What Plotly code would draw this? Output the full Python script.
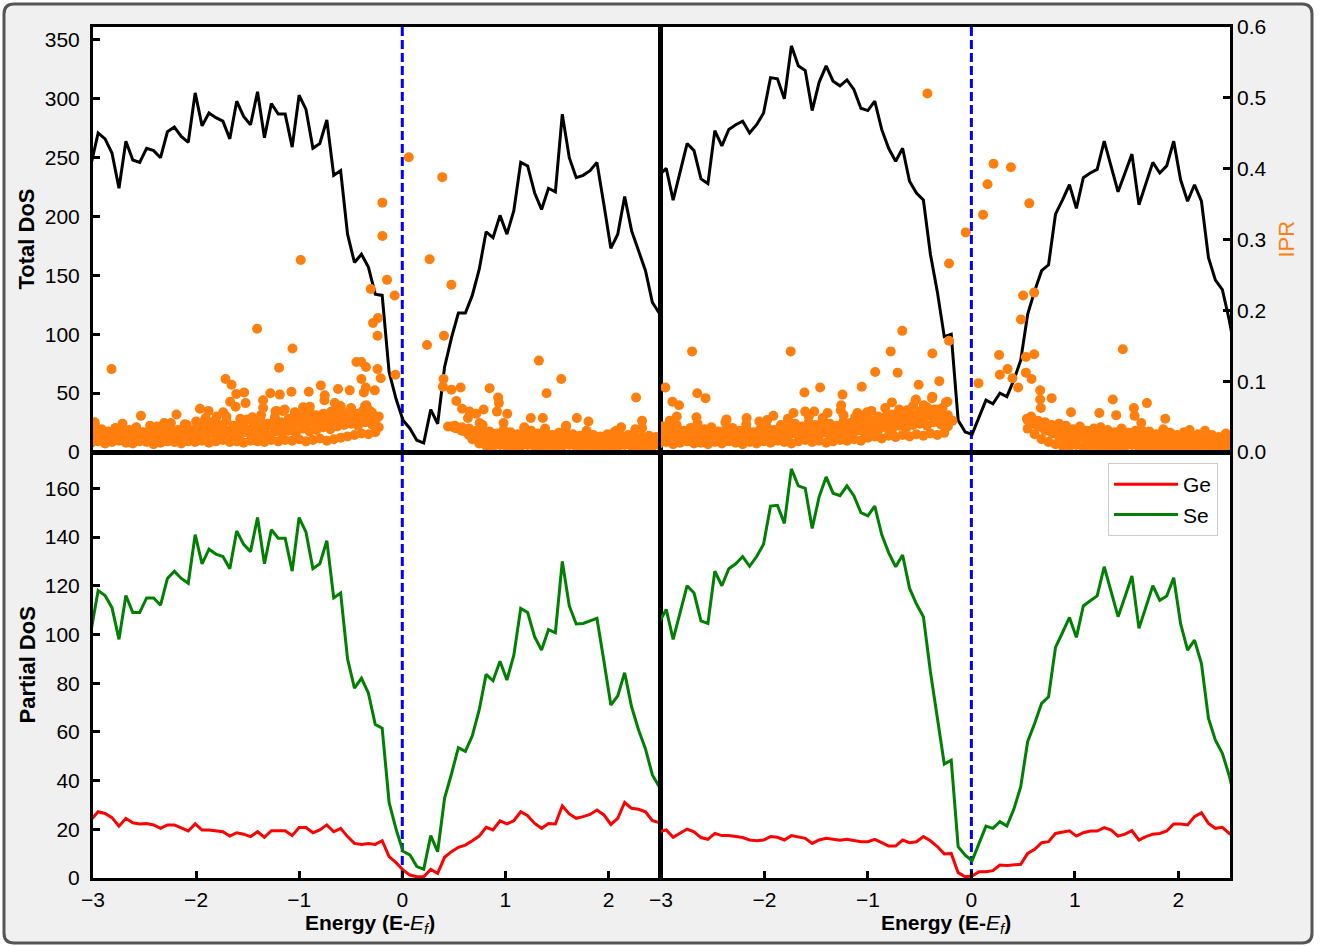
import plotly.graph_objects as go

# ---------------- data ----------------
energy = [-3.017, -2.950, -2.883, -2.816, -2.748, -2.681, -2.614, -2.547, -2.480, -2.412,
          -2.345, -2.278, -2.211, -2.144, -2.076, -2.009, -1.942, -1.875, -1.808, -1.740,
          -1.673, -1.606, -1.539, -1.472, -1.404, -1.337, -1.270, -1.203, -1.136, -1.068,
          -1.001, -0.934, -0.867, -0.800, -0.732, -0.665, -0.598, -0.531, -0.464, -0.396,
          -0.329, -0.262, -0.195, -0.128, -0.060, 0.007, 0.074, 0.141, 0.208, 0.276,
          0.343, 0.410, 0.477, 0.544, 0.612, 0.679, 0.746, 0.813, 0.880, 0.948,
          1.015, 1.082, 1.149, 1.216, 1.284, 1.351, 1.418, 1.485, 1.552, 1.620,
          1.687, 1.754, 1.821, 1.888, 1.956, 2.023, 2.090, 2.157, 2.224, 2.292,
          2.359, 2.426, 2.493, 2.560]
energy_mid = [-2.983, -2.916, -2.849, -2.782, -2.714, -2.647, -2.580, -2.513, -2.446, -2.378,
              -2.311, -2.244, -2.177, -2.110, -2.042, -1.975, -1.908, -1.841, -1.774, -1.706,
              -1.639, -1.572, -1.505, -1.438, -1.370, -1.303, -1.236, -1.169, -1.102, -1.034,
              -0.967, -0.900, -0.833, -0.766, -0.698, -0.631, -0.564, -0.497, -0.430, -0.362,
              -0.295, -0.228, -0.161, -0.094, -0.026, 0.041, 0.108, 0.175, 0.242, 0.310,
              0.377, 0.444, 0.511, 0.578, 0.646, 0.713, 0.780, 0.847, 0.914, 0.982,
              1.049, 1.116, 1.183, 1.250, 1.318, 1.385, 1.452, 1.519, 1.586, 1.654,
              1.721, 1.788, 1.855, 1.922, 1.990, 2.057, 2.124, 2.191, 2.258, 2.326,
              2.393, 2.460, 2.527, 2.594]

tdos_left = [245, 271, 266, 254, 224, 264, 248, 246, 258, 256,
             250, 272, 276, 268, 263, 305, 277, 288, 284, 281,
             266, 298, 285, 278, 306, 267, 296, 287, 287, 259,
             303, 291, 258, 262, 282, 235, 239, 185, 161, 168,
             157, 134, 133, 68, 45, 27, 20, 10, 7.6, 36,
             24, 72, 97, 118, 118, 133, 155, 187, 182, 201,
             185, 205, 246, 243, 220, 206, 224, 221, 287, 250,
             233, 235, 239, 246, 210, 173, 185, 217, 188, 171,
             154, 127, 118, 100]
tdos_right = [235, 241, 214, 238, 262, 256, 232, 228, 273, 260,
              274, 278, 281, 271, 278, 288, 318, 317, 300, 345,
              328, 324, 290, 314, 328, 315, 311, 316, 308, 292,
              290, 298, 274, 258, 247, 258, 230, 220, 214, 168,
              136, 98, 100, 27, 17, 15, 30, 44, 41, 50,
              47, 61, 78, 117, 137, 154, 159, 202, 214, 227,
              207, 233, 237, 240, 264, 242, 221, 237, 253, 210,
              228, 246, 237, 243, 264, 231, 213, 227, 213, 165,
              146, 138, 112, 80]

se_left = [102, 118, 116, 111, 98, 116, 109, 109, 115, 115,
           112, 123, 126, 123, 121, 141, 129, 135, 133, 132,
           127, 142.5, 137, 134, 148, 129, 143, 139.5, 139.5, 126,
           148, 142, 127, 129, 138.5, 115, 117, 90, 78, 82,
           76, 63, 61.5, 31, 20, 11, 9.5, 4.7, 3.6, 17.4,
           10.8, 32.7, 42.7, 53.5, 52, 58.4, 69, 83.6, 81, 89,
           81.3, 91.5, 110.7, 109, 99, 93.6, 102, 100.7, 130, 111.7,
           104.3, 104.5, 105.6, 106.6, 89, 71, 74.8, 84.3, 70.3, 60.8,
           53, 42.3, 37.5, 30]
ge_left = [24, 27.2, 26.5, 24.8, 21.3, 24.5, 22.7, 22.2, 22.4, 21.8,
           20.4, 21.8, 21.8, 20.4, 19.3, 22.2, 19.7, 19.7, 19.4, 19,
           17.2, 18.6, 18, 17, 19, 16.7, 19.4, 19.3, 19.4, 17.4,
           20.7, 20.7, 18.6, 19.7, 21.8, 19, 20.4, 17, 14.2, 13.8,
           14.2, 13.8, 15.3, 8.8, 6.3, 3.3, 1.2, 0.5, 0.5, 3.5,
           1.9, 8.5, 10.8, 12.6, 13.5, 15.3, 17.2, 20.8, 19.7, 23.5,
           22.2, 23.5, 27.2, 25.6, 22.4, 20.4, 22.4, 22.2, 29.6, 26.3,
           24.5, 25.2, 26.1, 27.9, 25.9, 22, 24.5, 31, 28.6, 28.2,
           27.2, 23.5, 22.7, 22]
se_right = [105, 110.3, 98, 109, 120, 117, 105.6, 104.5, 126, 120,
            127, 129, 132, 128, 132, 137, 152.7, 153, 145.6, 168,
            161, 160, 143.5, 156.5, 164.7, 158, 157, 161, 157, 150,
            148.7, 152.7, 141, 133.6, 127.8, 132.6, 119, 112.5, 107.3, 84.7,
            66.2, 46.8, 48.4, 12.9, 9.4, 7.1, 14.2, 21.3, 20.4, 23.1,
            21.3, 28.2, 37.5, 56, 63.5, 71.7, 74.4, 94.7, 100.7, 107,
            98.8, 111.7, 113.8, 115.8, 127.8, 117.5, 107.3, 115.5, 124, 102.5,
            111.4, 120, 114, 115.8, 123.3, 104.3, 93.6, 97.7, 88, 65.5,
            56.6, 51.2, 42, 30]
ge_right = [19, 19.7, 16.7, 18.5, 20.1, 19, 16.6, 15.9, 18.3, 17.4,
            17.4, 17, 16.6, 15.6, 15.3, 15.6, 17, 16.7, 15.6, 17.4,
            16.7, 16.3, 14.2, 15.6, 16.3, 15.9, 15.5, 15.9, 15.3, 14.9,
            14.9, 15.9, 14.5, 13.1, 13.1, 15.6, 14.5, 14.9, 17, 15.3,
            12.9, 9.9, 10.1, 2.2, 0.5, 0.8, 2.6, 2.6, 3, 5.3,
            5.1, 5.3, 5.6, 10.1, 11.8, 14.5, 14.9, 18.3, 19, 19.4,
            17.2, 18.6, 19.3, 19.3, 20.7, 19.7, 17.2, 18, 19.4, 15.6,
            17, 18, 18.3, 19.3, 22.2, 22.2, 21.8, 25.2, 26.8, 22.4,
            20.4, 20.8, 18.3, 17]

# IPR values (x1000) of the dense band of states.
# rows "low" and "upper" sit on `energy`, rows "mid" and "top" sit on `energy_mid`
N = None
ipr_tl_low = [13, 15, 12, 14, 16, 13, 12, 15, 14, 11,
              13, 15, 14, 12, 15, 14, 16, 13, 15, 17,
              14, 15, 13, 16, 15, 14, 17, 15, 17, 16,
              18, 15, 17, 19, 16, 18, 20, 22, 24, 26,
              25, 28, N, N, N, N, N, N, N, N,
              N, N, N, N, N, 18, 12, 9, 8, 10,
              7, 9, 8, 10, 7, 8, 9, 7, 8, 10,
              7, 9, 8, 7, 9, 8, 7, 10, 8, 7,
              9, 8, 10, 12]
ipr_tl_mid = [20, 18, 22, 17, 21, 19, 16, 20, 18, 22,
              17, 19, 21, 18, 20, 24, 21, 26, 23, 27,
              22, 25, 28, 24, 26, 23, 29, 27, 30, 27,
              33, 29, 31, 35, 32, 36, 38, 40, 37, 42,
              39, 35, N, N, N, N, N, N, N, N,
              N, 36, 34, 30, 24, 20, 18, 16, 19, 15,
              17, 14, 16, 18, 15, 17, 14, 16, 13, 15,
              17, 14, 13, 16, 15, 13, 14, 16, 12, 14,
              13, 15, 14, 12]
ipr_tl_upper = [28, 25, 26, 27, 24, 25, 27, 24, 25, 29,
                24, 26, 27, 28, 25, 32, 28, 34, 30, 35,
                30, 33, 37, 32, 34, 31, 37, 35, 38, 35,
                41, 37, 42, 41, 38, 44, 46, 49, 45, 51,
                47, 43, N, N, N, N, N, N, N, N,
                N, N, 36, 33, 29, 25, 22, 23, 22, 23,
                22, 20, 21, 24, 20, 22, 19, 21, 21, 20,
                20, 20, 18, 19, 20, 17, 18, 20, 16, 18,
                18, 18, 16, 15]
ipr_tl_top = [38, 32, 29, 34, 27, 31, 35, 28, 30, 36,
              29, 33, 31, 37, 30, 40, 35, 42, 38, 44,
              37, 41, 46, 39, 43, 40, 45, 42, 47, 43,
              50, 45, 52, 48, 44, 51, 55, 58, 54, 60,
              56, 50, N, N, N, N, N, N, N, N,
              N, N, 37, 35, 33, 30, 27, 29, 26, 31,
              28, 25, 27, 30, 26, 28, 24, 27, 29, 25,
              23, 26, 24, 22, 25, 21, 23, 24, 20, 22,
              23, 21, 19, 18]
ipr_tr_low = [12, 14, 11, 13, 15, 12, 13, 11, 14, 12,
              15, 13, 11, 14, 12, 15, 13, 16, 14, 12,
              15, 17, 14, 16, 13, 15, 17, 16, 18, 16,
              20, 22, 19, 23, 21, 24, 22, 25, 23, 26,
              24, 27, N, N, N, N, N, N, N, N,
              N, N, N, 33, 25, 18, 14, 11, 9, 8,
              10, 7, 9, 8, 6, 9, 7, 8, 10, 7,
              9, 6, 8, 7, 9, 8, 6, 7, 9, 8,
              6, 7, 9, 8]
ipr_tr_mid = [20, 17, 22, 19, 16, 21, 18, 20, 17, 22,
              19, 16, 21, 18, 20, 22, 19, 24, 21, 26,
              23, 25, 22, 27, 24, 26, 23, 28, 30, 27,
              33, 31, 35, 32, 37, 34, 38, 40, 37, 42,
              39, 36, N, N, N, N, N, N, N, N,
              N, N, N, 42, 36, 30, 26, 22, 19, 17,
              20, 16, 18, 15, 17, 14, 16, 15, 18, 14,
              16, 13, 15, 17, 14, 13, 15, 12, 14, 16,
              13, 12, 14, 13]
ipr_tr_upper = [28, 25, 30, 25, 25, 25, 25, 27, 23, 27,
                27, 23, 27, 23, 26, 29, 25, 31, 28, 33,
                30, 34, 30, 35, 32, 32, 33, 35, 38, 38,
                39, 41, 41, 43, 43, 45, 45, 49, 46, 51,
                48, 44, N, N, N, N, N, N, N, N,
                N, N, N, 45, 40, 35, 32, 28, 28, 25,
                27, 23, 25, 22, 24, 21, 24, 21, 24, 20,
                22, 19, 21, 22, 19, 19, 19, 18, 18, 20,
                17, 17, 17, 17]
ipr_tr_top = [36, 33, 38, 30, 34, 28, 32, 35, 29, 31,
              34, 30, 33, 28, 32, 35, 31, 38, 34, 40,
              36, 42, 38, 44, 40, 37, 43, 41, 45, 48,
              44, 50, 47, 53, 49, 55, 52, 57, 54, 60,
              56, 52, N, N, N, N, N, N, N, N,
              N, N, N, 48, 44, 40, 38, 34, 37, 32,
              35, 30, 33, 29, 31, 28, 32, 27, 30, 26,
              29, 25, 28, 27, 24, 26, 23, 25, 22, 24,
              21, 23, 20, 22]

# individually resolved states (energy, IPR)
ipr_tl_scattered = [
    (-2.82, 0.117), (-2.535, 0.051), (-2.31, 0.041), (-2.19, 0.053), (-2.09, 0.038), (-2.0, 0.043),
    (-1.963, 0.061), (-1.915, 0.045), (-1.88, 0.058), (-1.80, 0.050), (-1.737, 0.056), (-1.714, 0.103),
    (-1.67, 0.071), (-1.656, 0.095), (-1.617, 0.064), (-1.61, 0.082), (-1.534, 0.084), (-1.52, 0.069),
    (-1.453, 0.049), (-1.408, 0.174), (-1.35, 0.073), (-1.35, 0.062), (-1.28, 0.083), (-1.23, 0.057),
    (-1.22, 0.058), (-1.195, 0.119), (-1.188, 0.081), (-1.156, 0.058), (-1.14, 0.060), (-1.075, 0.085),
    (-1.065, 0.146), (-1.043, 0.056), (-1.036, 0.055), (-0.985, 0.271), (-0.962, 0.063), (-0.907, 0.085),
    (-0.897, 0.064), (-0.79, 0.094), (-0.768, 0.050), (-0.752, 0.080), (-0.755, 0.073), (-0.694, 0.056),
    (-0.687, 0.057), (-0.655, 0.069), (-0.623, 0.089), (-0.60, 0.065), (-0.597, 0.064), (-0.51, 0.087),
    (-0.51, 0.052), (-0.445, 0.127), (-0.43, 0.047), (-0.397, 0.127), (-0.397, 0.103), (-0.38, 0.058),
    (-0.373, 0.084), (-0.354, 0.091), (-0.352, 0.120), (-0.348, 0.066), (-0.33, 0.060), (-0.306, 0.230),
    (-0.30, 0.052), (-0.29, 0.053), (-0.284, 0.182), (-0.267, 0.087), (-0.24, 0.164), (-0.24, 0.117),
    (-0.236, 0.189), (-0.209, 0.104), (-0.193, 0.352), (-0.193, 0.305), (-0.148, 0.243), (-0.074, 0.221),
    (-0.067, 0.109), (0.063, 0.416), (0.24, 0.151), (0.265, 0.272), (0.388, 0.388), (0.394, 0.092),
    (0.40, 0.103), (0.404, 0.164), (0.476, 0.236), (0.476, 0.088), (0.524, 0.072), (0.566, 0.091),
    (0.58, 0.061), (0.637, 0.048), (0.653, 0.057), (0.718, 0.054), (0.75, 0.041), (0.789, 0.060),
    (0.847, 0.090), (0.918, 0.057), (0.93, 0.077), (0.937, 0.069), (1.018, 0.054), (1.247, 0.048),
    (1.325, 0.129), (1.363, 0.048), (1.40, 0.083), (1.542, 0.103), (1.59, 0.037), (1.693, 0.048),
    (1.806, 0.043), (2.075, 0.030), (2.123, 0.035), (2.26, 0.032), (2.268, 0.077), (2.326, 0.044),
    (-2.983, 0.042), (-2.714, 0.040), (-2.446, 0.037), (-2.244, 0.041), (-2.110, 0.039), (-1.908, 0.048),
    (-1.706, 0.050), (-1.572, 0.047), (-1.370, 0.052), (-1.236, 0.049), (-1.034, 0.055), (-0.900, 0.057),
    (-0.766, 0.054), (-0.631, 0.060), (-0.497, 0.062), (-0.362, 0.065), (0.780, 0.038), (0.982, 0.041),
    (1.183, 0.035), (1.385, 0.033), (1.586, 0.036), (1.788, 0.030), (2.057, 0.028), (2.326, 0.034),
    (2.527, 0.027)]
ipr_tr_scattered = [
    (-2.958, 0.091), (-2.89, 0.071), (-2.848, 0.050), (-2.826, 0.066), (-2.70, 0.142), (-2.658, 0.049),
    (-2.65, 0.083), (-2.57, 0.076), (-2.367, 0.046), (-2.173, 0.048), (-2.05, 0.043), (-1.915, 0.051),
    (-1.747, 0.142), (-1.72, 0.055), (-1.614, 0.084), (-1.607, 0.057), (-1.52, 0.057), (-1.462, 0.091),
    (-1.39, 0.055), (-1.263, 0.059), (-1.259, 0.066), (-1.246, 0.081), (-1.123, 0.049), (-1.06, 0.092),
    (-1.01, 0.056), (-0.93, 0.113), (-0.817, 0.052), (-0.78, 0.142), (-0.768, 0.070), (-0.713, 0.112),
    (-0.668, 0.171), (-0.623, 0.059), (-0.60, 0.050), (-0.54, 0.073), (-0.536, 0.074), (-0.51, 0.095),
    (-0.46, 0.066), (-0.45, 0.055), (-0.425, 0.506), (-0.38, 0.076), (-0.377, 0.139), (-0.377, 0.078),
    (-0.348, 0.059), (-0.33, 0.060), (-0.31, 0.100), (-0.31, 0.044), (-0.28, 0.062), (-0.245, 0.070),
    (-0.232, 0.071), (-0.216, 0.266), (-0.216, 0.157), (-0.183, 0.044), (-0.054, 0.310), (0.069, 0.097),
    (0.113, 0.335), (0.156, 0.378), (0.214, 0.407), (0.268, 0.137), (0.275, 0.109), (0.35, 0.117),
    (0.382, 0.402), (0.397, 0.104), (0.452, 0.091), (0.479, 0.187), (0.50, 0.221), (0.527, 0.134),
    (0.527, 0.112), (0.537, 0.047), (0.56, 0.351), (0.582, 0.103), (0.607, 0.225), (0.607, 0.138),
    (0.665, 0.087), (0.665, 0.074), (0.672, 0.062), (0.776, 0.076), (0.963, 0.056), (1.237, 0.055),
    (1.367, 0.074), (1.40, 0.052), (1.464, 0.145), (1.571, 0.062), (1.578, 0.051), (1.642, 0.041),
    (1.697, 0.069), (1.874, 0.047), (2.11, 0.031),
    (-2.916, 0.044), (-2.647, 0.040), (-2.378, 0.042), (-2.177, 0.039), (-1.975, 0.045), (-1.774, 0.047),
    (-1.572, 0.050), (-1.438, 0.048), (-1.236, 0.052), (-1.102, 0.055), (-0.967, 0.058), (-0.833, 0.062),
    (-0.698, 0.060), (-0.564, 0.065), (-0.430, 0.063), (-0.295, 0.058), (0.578, 0.050), (0.713, 0.042),
    (0.847, 0.040), (1.049, 0.036), (1.250, 0.035), (1.452, 0.033), (1.654, 0.030), (1.855, 0.032),
    (2.057, 0.028), (2.258, 0.030), (2.460, 0.026)]

x_ticks = [-3, -2, -1, 0, 1, 2]
dos_ticks = [0, 50, 100, 150, 200, 250, 300, 350]
pdos_ticks = [0, 20, 40, 60, 80, 100, 120, 140, 160]
ipr_ticks = [0.0, 0.1, 0.2, 0.3, 0.4, 0.5, 0.6]


def band_points(low, mid, upper, top, extra):
    xs, ys = [], []
    for grid, row in ((energy, low), (energy_mid, mid), (energy, upper), (energy_mid, top)):
        for e, v in zip(grid, row):
            if v is not None:
                xs.append(e)
                ys.append(v / 1000.0)
    for e, v in extra:
        xs.append(e)
        ys.append(v)
    return xs, ys


# ---------------- figure ----------------
W, H = 1320, 946
ML, MR, MT, MB = 93, 90, 27, 68
PW, PH = W - ML - MR, H - MT - MB
FONT = "Liberation Sans, Arial, Helvetica, sans-serif"
ORANGE = "#ff7f0e"

fig = go.Figure()

fig.add_trace(go.Scatter(x=energy, y=tdos_left, mode="lines", line=dict(color="black", width=3),
                         xaxis="x", yaxis="y", showlegend=False))
xs, ys = band_points(ipr_tl_low, ipr_tl_mid, ipr_tl_upper, ipr_tl_top, ipr_tl_scattered)
fig.add_trace(go.Scatter(x=xs, y=ys, mode="markers", marker=dict(color=ORANGE, size=10, line=dict(width=0)),
                         xaxis="x", yaxis="y5", showlegend=False))

fig.add_trace(go.Scatter(x=energy, y=tdos_right, mode="lines", line=dict(color="black", width=3),
                         xaxis="x2", yaxis="y2", showlegend=False))
xs, ys = band_points(ipr_tr_low, ipr_tr_mid, ipr_tr_upper, ipr_tr_top, ipr_tr_scattered)
fig.add_trace(go.Scatter(x=xs, y=ys, mode="markers", marker=dict(color=ORANGE, size=10, line=dict(width=0)),
                         xaxis="x2", yaxis="y6", showlegend=False))

fig.add_trace(go.Scatter(x=energy, y=ge_left, mode="lines", line=dict(color="red", width=3),
                         xaxis="x3", yaxis="y3", showlegend=False))
fig.add_trace(go.Scatter(x=energy, y=se_left, mode="lines", line=dict(color="green", width=3),
                         xaxis="x3", yaxis="y3", showlegend=False))
fig.add_trace(go.Scatter(x=energy, y=ge_right, mode="lines", line=dict(color="red", width=3),
                         xaxis="x4", yaxis="y4", name="Ge"))
fig.add_trace(go.Scatter(x=energy, y=se_right, mode="lines", line=dict(color="green", width=3),
                         xaxis="x4", yaxis="y4", name="Se"))

XL = [0, 0.4987]
XR = [0.4996, 1]
YT = [0.5006, 1]
YB = [0, 0.4994]

base = dict(showline=True, linecolor="black", linewidth=3, mirror=True, showgrid=False,
            zeroline=False, ticks="inside", ticklen=7, tickwidth=3, tickcolor="black",
            tickfont=dict(family=FONT, size=21, color="black"))


def ax(**kw):
    d = dict(base)
    d.update(kw)
    return d


fig.update_layout(
    xaxis=ax(domain=XL, range=[-3, 2.5], anchor="y", ticks="", showticklabels=False),
    yaxis=ax(domain=YT, range=[0, 361], anchor="x", tickvals=dos_ticks, ticklabelstandoff=6),
    yaxis5=dict(overlaying="y", anchor="x", range=[0, 0.6], visible=False),
    xaxis2=ax(domain=XR, range=[-3, 2.5], anchor="y2", ticks="", showticklabels=False),
    yaxis2=ax(domain=YT, range=[0, 361], anchor="x2", ticks="", showticklabels=False),
    yaxis6=dict(overlaying="y2", anchor="x2", side="right", range=[0, 0.6], tickvals=ipr_ticks,
                tickformat=".1f", ticks="inside", ticklen=7, tickwidth=3, tickcolor="black",
                showline=False, showgrid=False, zeroline=False, ticklabelstandoff=6,
                tickfont=dict(family=FONT, size=21, color="black")),
    xaxis3=ax(domain=XL, range=[-3, 2.5], anchor="y3", tickvals=x_ticks, ticklabelstandoff=1),
    yaxis3=ax(domain=YB, range=[0, 174.5], anchor="x3", tickvals=pdos_ticks, ticklabelstandoff=6),
    xaxis4=ax(domain=XR, range=[-3, 2.5], anchor="y4", tickvals=x_ticks, ticklabelstandoff=1),
    yaxis4=ax(domain=YB, range=[0, 174.5], anchor="x4", ticks="", showticklabels=False),
)


def pxx(px):
    return (px - ML) / PW


def pxy(py):
    return (H - MB - py) / PH


# rounded frame around the whole figure
fx0, fx1 = pxx(4), pxx(1312)
fyt, fyb = pxy(4), pxy(943)
rx, ry = 10 / PW, 10 / PH
frame = (f"M {fx0+rx},{fyt} L {fx1-rx},{fyt} Q {fx1},{fyt} {fx1},{fyt-ry} "
         f"L {fx1},{fyb+ry} Q {fx1},{fyb} {fx1-rx},{fyb} L {fx0+rx},{fyb} "
         f"Q {fx0},{fyb} {fx0},{fyb+ry} L {fx0},{fyt-ry} Q {fx0},{fyt} {fx0+rx},{fyt} Z")
shapes = [
    dict(type="path", path=frame, xref="paper", yref="paper", fillcolor="#f0f0f0",
         line=dict(color="#555555", width=3), layer="below"),
    dict(type="rect", x0=0, x1=1, y0=0, y1=1, xref="paper", yref="paper", fillcolor="white",
         line=dict(width=0), layer="below"),
]
for xr, yr in (("x", "y"), ("x2", "y2"), ("x3", "y3"), ("x4", "y4")):
    shapes.append(dict(type="line", x0=0, x1=0, y0=0, y1=1, xref=xr, yref=yr + " domain",
                       line=dict(color="blue", width=3, dash="9px,4px"), layer="below"))

annotations = [
    dict(text="<b>Total DoS</b>", x=pxx(26), y=pxy(239.5), xref="paper", yref="paper",
         textangle=-90, showarrow=False, xanchor="center", yanchor="middle",
         font=dict(family=FONT, size=22, color="black")),
    dict(text="<b>Partial DoS</b>", x=pxx(27), y=pxy(665.5), xref="paper", yref="paper",
         textangle=-90, showarrow=False, xanchor="center", yanchor="middle",
         font=dict(family=FONT, size=22, color="black")),
    dict(text="IPR", x=pxx(1286), y=pxy(239.5), xref="paper", yref="paper",
         textangle=-90, showarrow=False, xanchor="center", yanchor="middle",
         font=dict(family=FONT, size=22, color=ORANGE)),
]
elabel = "<b>Energy (E-</b><i>E</i><sub><i>f</i></sub><b>)</b>"
for cx in (370, 945.5):
    annotations.append(dict(text=elabel, x=pxx(cx), y=pxy(924), xref="paper", yref="paper",
                            showarrow=False, xanchor="center", yanchor="middle",
                            font=dict(family=FONT, size=21, color="black")))

fig.update_layout(
    width=W, height=H,
    margin=dict(l=ML, r=MR, t=MT, b=MB, pad=0),
    paper_bgcolor="white", plot_bgcolor="white",
    shapes=shapes, annotations=annotations,
    font=dict(family=FONT, size=21, color="black"),
    legend=dict(x=pxx(1218), y=pxy(463), xanchor="right", yanchor="top", itemwidth=64,
                bgcolor="white", bordercolor="#cccccc", borderwidth=1,
                font=dict(family=FONT, size=21, color="black")),
)

fig.write_html("out.html", config={"displayModeBar": False},
               post_script="document.body.style.margin='0';document.body.style.overflow='hidden';")
